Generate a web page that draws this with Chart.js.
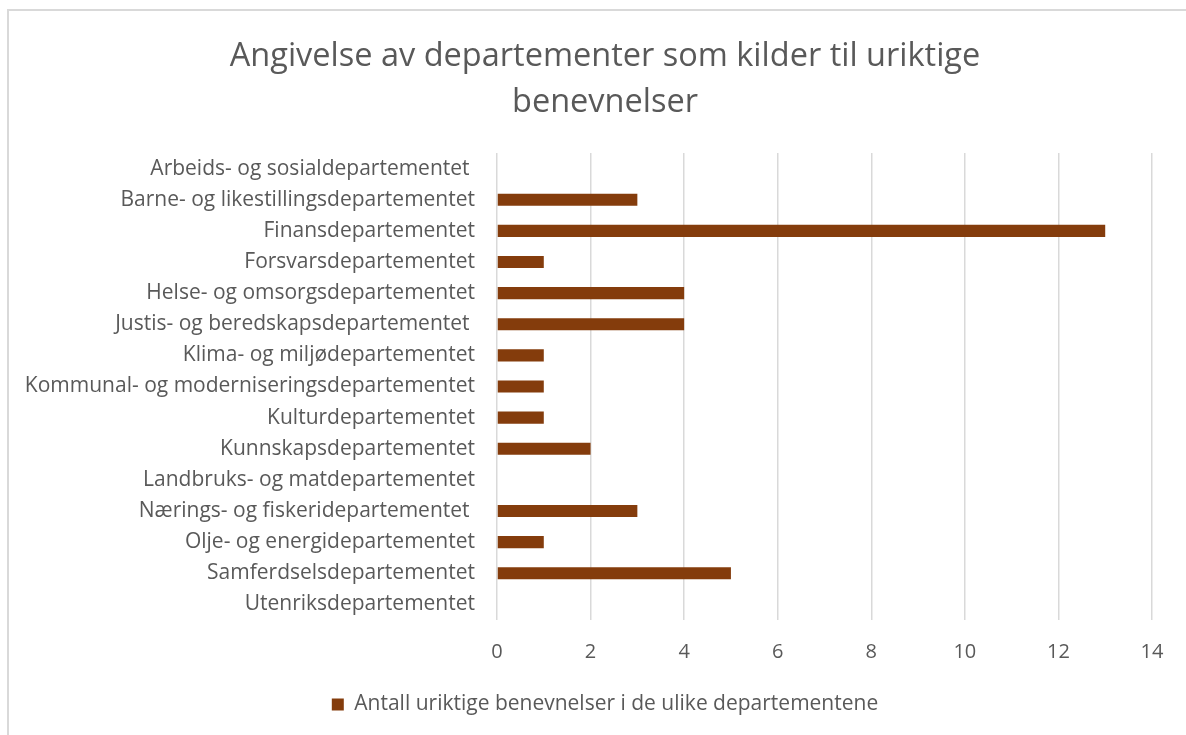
<!DOCTYPE html>
<html>
<head>
<meta charset="utf-8">
<script src="https://cdn.jsdelivr.net/npm/chart.js@4/dist/chart.umd.min.js"></script>
<style>
  body { margin: 0; background: #fff; }
  #wrap { position: relative; width: 1186px; height: 735px; overflow: hidden; }
  #frame { position: absolute; left: 7px; top: 9px; width: 1300px; height: 900px;
           border-left: 2px solid #d9d9d9; border-top: 2px solid #d9d9d9; }
  canvas { position: absolute; left: 0; top: 0; }
</style>
</head>
<body>
<div id="wrap">
  <div id="frame"></div>
  <canvas id="myChart" width="1186" height="735"></canvas>
</div>
<script>
// departementer og antall uriktige benevnelser
const departementer = [
  'Arbeids- og sosialdepartementet ',
  'Barne- og likestillingsdepartementet',
  'Finansdepartementet',
  'Forsvarsdepartementet',
  'Helse- og omsorgsdepartementet',
  'Justis- og beredskapsdepartementet ',
  'Klima- og miljødepartementet',
  'Kommunal- og moderniseringsdepartementet',
  'Kulturdepartementet',
  'Kunnskapsdepartementet',
  'Landbruks- og matdepartementet',
  'Nærings- og fiskeridepartementet ',
  'Olje- og energidepartementet',
  'Samferdselsdepartementet',
  'Utenriksdepartementet'
];
const antall = [0, 3, 13, 1, 4, 4, 1, 1, 1, 2, 0, 3, 1, 5, 0];
const serieNavn = 'Antall uriktige benevnelser i de ulike departementene';
const tittel = ['Angivelse av departementer som kilder til uriktige', 'benevnelser'];
const xMin = 0, xMax = 14, xSteg = 2;

const tekstFarge = '#595959';
const fontFamilie = "'Open Sans', 'Liberation Sans', sans-serif";

// flytter tittel og forklaring litt mot høyre, som i Excel-figuren
const flyttSentrum = {
  id: 'flyttSentrum',
  beforeDraw(chart) {
    const dx = 29;
    chart.legend.left += dx;
    chart.legend.right += dx;
    chart.titleBlock.left += dx;
    chart.titleBlock.right += dx;
  }
};

const ctx = document.getElementById('myChart');
const myChart = new Chart(ctx, {
  type: 'bar',
  data: {
    labels: departementer,
    datasets: [{
      label: serieNavn,
      data: antall,
      backgroundColor: '#843c0c',
      borderWidth: 0,
      categoryPercentage: 1,
      barPercentage: 0.39
    }]
  },
  options: {
    indexAxis: 'y',
    responsive: false,
    animation: false,
    layout: { padding: { left: 0, right: 34, top: 0, bottom: 10 } },
    plugins: {
      title: {
        display: true,
        text: tittel,
        color: tekstFarge,
        font: { family: fontFamilie, size: 32.5, weight: 'normal', lineHeight: 1.4 },
        padding: { top: 34, bottom: 28 }
      },
      legend: {
        position: 'bottom',
        labels: {
          color: tekstFarge,
          font: { family: fontFamilie, size: 21 },
          boxWidth: 12,
          boxHeight: 12,
          padding: 10
        }
      },
      tooltip: { enabled: false }
    },
    scales: {
      x: {
        min: xMin,
        max: xMax,
        ticks: { stepSize: xSteg, color: tekstFarge, font: { family: fontFamilie, size: 20 }, padding: 20 },
        grid: { color: '#d9d9d9', lineWidth: 1.5, drawTicks: false },
        border: { display: false }
      },
      y: {
        ticks: { color: tekstFarge, font: { family: fontFamilie, size: 21 }, padding: 22, autoSkip: false },
        grid: { display: false, drawTicks: false },
        border: { display: false },
        afterFit: (scale) => { scale.width = 497; }
      }
    }
  },
  plugins: [flyttSentrum]
});
</script>
</body>
</html>
